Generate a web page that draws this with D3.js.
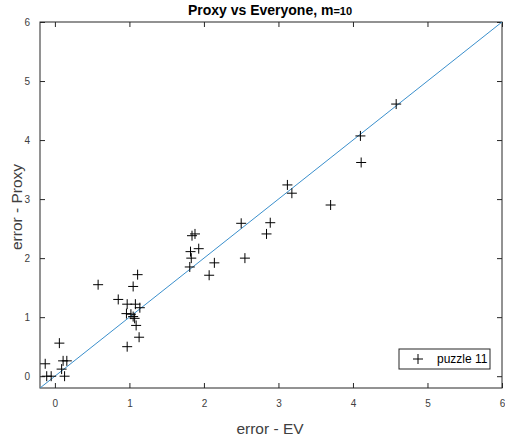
<!DOCTYPE html>
<html>
<head>
<meta charset="utf-8">
<script src="https://cdn.jsdelivr.net/npm/d3@7/dist/d3.min.js"></script>
<style>
  html, body { margin: 0; padding: 0; background: #fff; }
  svg { display: block; font-family: Arial, "Liberation Sans", sans-serif; }
</style>
</head>
<body>
<svg id="chart" width="505" height="441"></svg>
<script>
// error - EV (x) for each puzzle run
const errEV = [
  -0.13, -0.11, -0.05, 0.06, 0.11, 0.16, 0.09, 0.13,
  0.58, 0.85, 0.97, 0.97, 1.08, 0.96, 1.02, 1.05, 1.07, 1.14, 1.09, 1.13, 1.05, 1.11,
  1.84, 1.88, 1.82, 1.93, 1.83, 1.81, 2.14, 2.07,
  2.50, 2.89, 2.84, 2.55, 3.12, 3.18,
  3.70, 4.10, 4.11, 4.58
];
// error - Proxy (y) for the same runs
const errProxy = [
  0.21, 0.0, 0.0, 0.56, 0.26, 0.26, 0.12, 0.0,
  1.55, 1.30, 0.50, 1.22, 1.22, 1.06, 1.05, 1.01, 0.98, 1.16, 0.86, 0.66, 1.52, 1.72,
  2.38, 2.41, 2.11, 2.16, 2.00, 1.85, 1.92, 1.71,
  2.59, 2.60, 2.41, 2.00, 3.24, 3.10,
  2.90, 4.07, 3.62, 4.61
];
const xTicks = [0, 1, 2, 3, 4, 5, 6];
const yTicks = [0, 1, 2, 3, 4, 5, 6];
const domainLo = -0.2, domainHi = 6;
const seriesName = "puzzle 11";

const svg = d3.select("#chart");
const plotL = 40, plotR = 502, plotT = 22, plotB = 388;

const x = d3.scaleLinear().domain([domainLo, domainHi]).range([plotL, plotR]);
const y = d3.scaleLinear().domain([domainLo, domainHi]).range([plotB, plotT]);

const axisColor = "#262626";
const textColor = "#404040";
const tickLen = 5;

// inward ticks on all four sides, labels only on bottom and left
const gx = svg.append("g").attr("transform", `translate(0,${plotB})`)
  .call(d3.axisBottom(x).tickValues(xTicks).tickSizeInner(-tickLen).tickSizeOuter(0).tickPadding(12).tickFormat(d3.format("d")));
const gxTop = svg.append("g").attr("transform", `translate(0,${plotT})`)
  .call(d3.axisTop(x).tickValues(xTicks).tickSizeInner(-tickLen).tickSizeOuter(0).tickFormat(""));
const gy = svg.append("g").attr("transform", `translate(${plotL},0)`)
  .call(d3.axisLeft(y).tickValues(yTicks).tickSizeInner(-tickLen).tickSizeOuter(0).tickPadding(10).tickFormat(d3.format("d")));
const gyRight = svg.append("g").attr("transform", `translate(${plotR},0)`)
  .call(d3.axisRight(y).tickValues(yTicks).tickSizeInner(-tickLen).tickSizeOuter(0).tickFormat(""));

[gx, gxTop, gy, gyRight].forEach(g => {
  g.select(".domain").remove();
  g.selectAll(".tick line").attr("stroke", axisColor).attr("stroke-width", 1);
  g.selectAll(".tick text").attr("fill", textColor).attr("font-size", 10)
    .attr("font-family", "Arial, 'Liberation Sans', sans-serif");
});

// plot box
svg.append("rect")
  .attr("x", plotL).attr("y", plotT)
  .attr("width", plotR - plotL).attr("height", plotB - plotT)
  .attr("fill", "none").attr("stroke", axisColor).attr("stroke-width", 1);

// clip region for the reference line
svg.append("clipPath").attr("id", "plotArea")
  .append("rect").attr("x", plotL).attr("y", plotT).attr("width", plotR - plotL).attr("height", plotB - plotT);

// y = x reference line
svg.append("line")
  .attr("clip-path", "url(#plotArea)")
  .attr("x1", x(domainLo)).attr("y1", y(domainLo))
  .attr("x2", x(domainHi)).attr("y2", y(domainHi))
  .attr("stroke", "#3a8fcc").attr("stroke-width", 1);

// plus markers
const arm = 5;
const plusPath = (cx, cy) => `M${cx - arm},${cy}H${cx + arm}M${cx},${cy - arm}V${cy + arm}`;
svg.append("g").selectAll("path")
  .data(d3.range(errEV.length))
  .join("path")
  .attr("d", i => plusPath(x(errEV[i]), y(errProxy[i])))
  .attr("stroke", "#000").attr("stroke-width", 1).attr("fill", "none");

// title
const title = svg.append("text")
  .attr("x", 270).attr("y", 15)
  .attr("text-anchor", "middle")
  .attr("font-size", 14).attr("font-weight", "bold").attr("fill", "#000");
title.append("tspan").text("Proxy vs Everyone, m");
title.append("tspan").attr("font-size", 11).text("=10");

// axis labels
svg.append("text")
  .attr("x", 270).attr("y", 434)
  .attr("text-anchor", "middle").attr("font-size", 15.5).attr("fill", textColor)
  .text("error - EV");
svg.append("text")
  .attr("transform", "translate(22,207) rotate(-90)")
  .attr("text-anchor", "middle").attr("font-size", 15.5).attr("fill", textColor)
  .text("error - Proxy");

// legend
const lg = svg.append("g");
lg.append("rect")
  .attr("x", 399).attr("y", 349).attr("width", 91).attr("height", 20)
  .attr("fill", "#fff").attr("stroke", axisColor).attr("stroke-width", 1);
lg.append("path").attr("d", plusPath(418, 359)).attr("stroke", "#000").attr("stroke-width", 1);
lg.append("text").attr("x", 437).attr("y", 363)
  .attr("font-size", 12).attr("fill", "#000").text(seriesName);
</script>
</body>
</html>
